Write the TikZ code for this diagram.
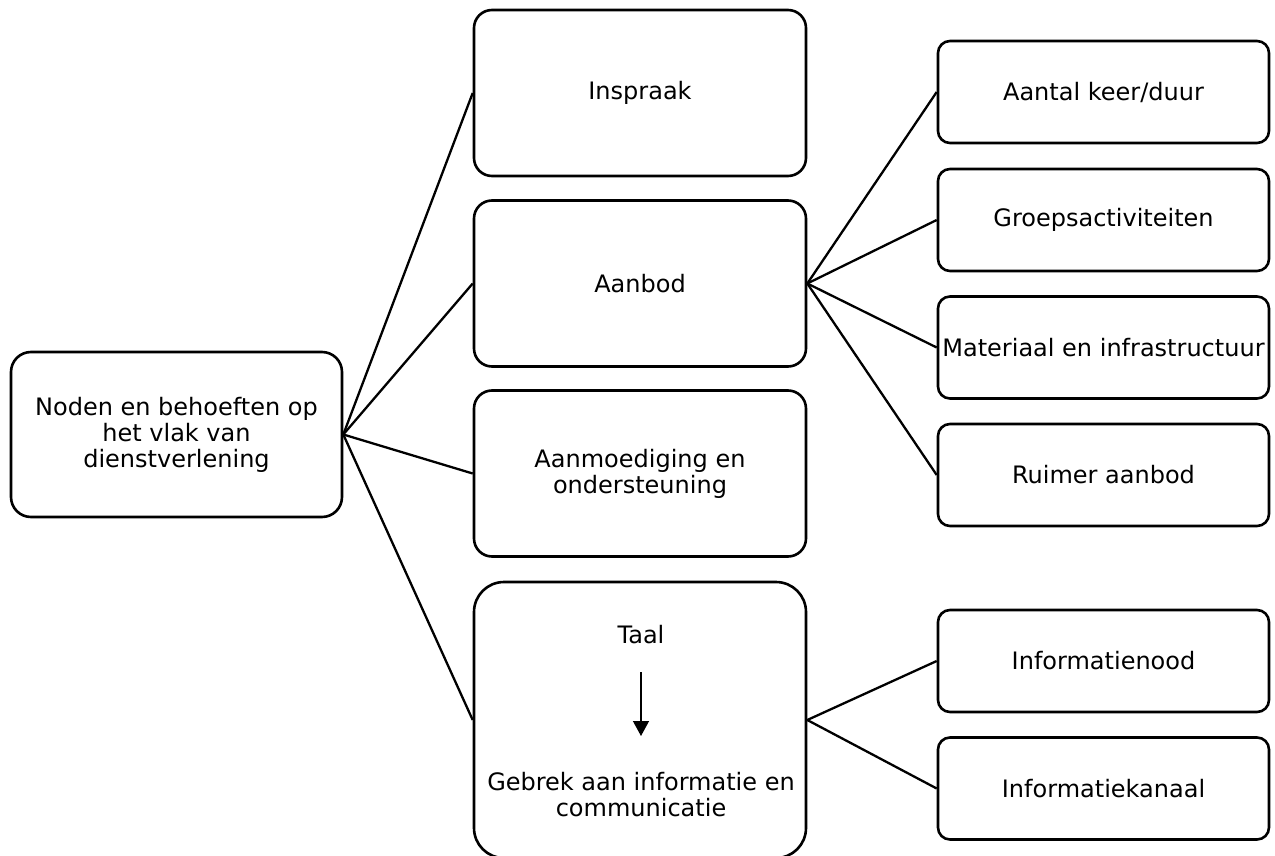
\documentclass[tikz,border=0pt]{standalone}
\usepackage{fontspec}
\setmainfont{DejaVu Sans}
\usetikzlibrary{arrows.meta}
\begin{document}
\begin{tikzpicture}[x=1pt,y=-1pt,
  every node/.style={font=\fontsize{24}{26}\selectfont, inner sep=0pt, align=center},
  box/.style={draw, line width=2.6pt, rounded corners=#1},
  box/.default=18pt,
  midbox/.style={box=18pt, minimum width=332pt, minimum height=166pt},
  subbox/.style={box=12pt, minimum width=331pt, minimum height=102pt},
  link/.style={line width=2.3pt},
  flow/.style={line width=1.3pt, -{Triangle[length=15pt,width=16pt]}}]
\useasboundingbox (0,0) rectangle (1275,856);

% root
\node[box=20pt, minimum width=331pt, minimum height=165pt] (root) at (176.5,434.5)
  {Noden en behoeften op\\het vlak van\\dienstverlening};

% middle column
\node[midbox] (inspraak) at (640,93) {Inspraak};
\node[midbox] (aanbod) at (640,283.5) {Aanbod};
\node[midbox] (aanmoed) at (640,473.5) {Aanmoediging en\\ondersteuning};
\node[box=30pt, minimum width=332pt, minimum height=276pt] (taalbox) at (640,720) {};
\node (taal) at (641,635) {Taal};
\node (gebrek) at (641,795) {Gebrek aan informatie en\\communicatie};
\coordinate (arrtop) at (641,672);
\coordinate (arrbot) at (641,736);
\draw[flow] (arrtop) -- (arrbot);

% right column
\node[subbox] (aantal) at (1103.5,92) {Aantal keer/duur};
\node[subbox] (groep) at (1103.5,220) {Groepsactiviteiten};
\node[subbox] (materiaal) at (1103.5,347.5) {Materiaal en infrastructuur};
\node[subbox] (ruimer) at (1103.5,475) {Ruimer aanbod};
\node[subbox] (infonood) at (1103.5,661) {Informatienood};
\node[subbox] (infokanaal) at (1103.5,788.5) {Informatiekanaal};

% connectors
\foreach \t in {inspraak,aanbod,aanmoed,taalbox}
  \draw[link] (root.east) -- (\t.west);
\foreach \t in {aantal,groep,materiaal,ruimer}
  \draw[link] (aanbod.east) -- (\t.west);
\foreach \t in {infonood,infokanaal}
  \draw[link] (taalbox.east) -- (\t.west);
\end{tikzpicture}
\end{document}
